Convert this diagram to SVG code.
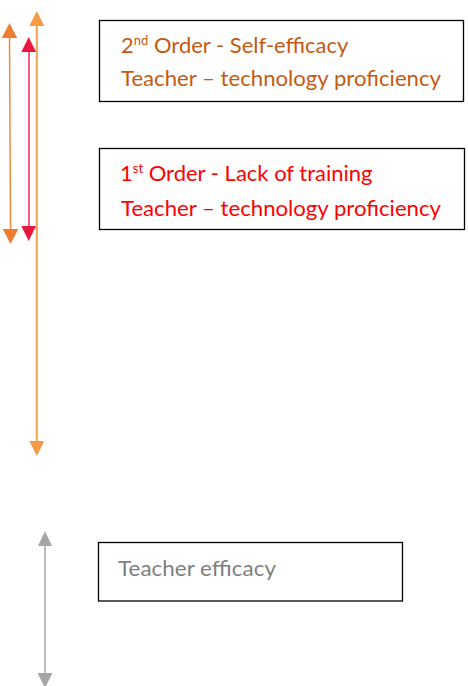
<svg xmlns="http://www.w3.org/2000/svg" width="468" height="686" viewBox="0 0 468 686">
<style>
.box{fill:#fff;stroke:#000;stroke-width:1.3}
.t{font-family:Lato,"Open Sans","Liberation Sans",sans-serif;font-size:22px}
.sup{font-size:13px}
.o{fill:#C55A11}
.r{fill:#FF0000}
.g{fill:#7F7F7F}
</style>
<rect width="468" height="686" fill="#fff"/>
<g id="connectors">
  <line x1="9.5" y1="37" x2="10.5" y2="230" stroke="#F08A3A" stroke-width="1.5"/>
  <polygon points="9.5,23 17.2,38 1.8,38" fill="#ED7D31"/>
  <polygon points="10.5,244 2.7,229 18.3,229" fill="#ED7D31"/>
  <line x1="29" y1="51" x2="29" y2="227" stroke="#F2607E" stroke-width="2"/>
  <polygon points="28.7,37 36,52 21.3,52" fill="#E8173F"/>
  <polygon points="28.7,241 21.3,226 36,226" fill="#E8173F"/>
  <line x1="36.8" y1="25" x2="36.8" y2="442" stroke="#F5A04F" stroke-width="2"/>
  <polygon points="36.8,11 44.3,26 29.3,26" fill="#F79A46"/>
  <polygon points="36.8,456 29.3,441 44.3,441" fill="#F79A46"/>
  <line x1="45" y1="545" x2="45" y2="674" stroke="#A6A6A6" stroke-width="1.5"/>
  <polygon points="45,531 52,546 38,546" fill="#A6A6A6"/>
  <polygon points="45,688 37.5,673 52.5,673" fill="#A6A6A6"/>
</g>
<g id="node-second-order">
  <rect class="box" x="99.5" y="20.5" width="364" height="81"/>
  <text class="t o" x="121" y="53">2<tspan class="sup" dy="-8">nd</tspan><tspan dy="8"> Order - Self-efficacy</tspan></text>
  <text class="t o" x="121" y="86" textLength="320" lengthAdjust="spacingAndGlyphs">Teacher – technology proficiency</text>
</g>
<g id="node-first-order">
  <rect class="box" x="99.5" y="148.5" width="365" height="81"/>
  <text class="t r" x="120" y="181">1<tspan class="sup" dy="-8">st</tspan><tspan dy="8"> Order - Lack of training</tspan></text>
  <text class="t r" x="121" y="216" textLength="320" lengthAdjust="spacingAndGlyphs">Teacher – technology proficiency</text>
</g>
<g id="node-teacher-efficacy">
  <rect class="box" x="98.5" y="542.5" width="304" height="58.5"/>
  <text class="t g" x="118" y="576" textLength="158" lengthAdjust="spacingAndGlyphs">Teacher efficacy</text>
</g>
</svg>
